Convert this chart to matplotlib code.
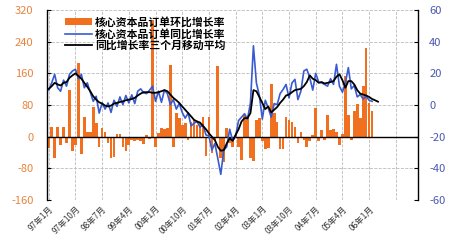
# -*- coding:utf-8 -*-
"""
核心资本品订单：环比(柱) 与 同比(线) 双轴图
"""
import numpy as np
import matplotlib
matplotlib.use('Agg')
import matplotlib.pyplot as plt

plt.rcParams['font.family'] = ['Noto Sans CJK SC', 'DejaVu Sans']
plt.rcParams['axes.unicode_minus'] = False

# ------数据------
# 环比增长率 (左轴), 97年1月起按月
mom = [-28, 24, -55, 24, -20, 25, -15, 117, -35, -20,
       187, -45, 50, 12, 12, 75, 35, -25, 22, 12,
       -15, -55, -52, 6, 8, -25, -35, -20, -8, -10,
       -8, -10, -18, 5, -5, 294, -25, 10, 22, 20,
       22, 180, -25, 60, 48, 30, 35, -8, 38, 42,
       30, 35, 50, -48, 50, -40, -10, 179, -55, -64,
       22, -15, -25, 5, -25, -60, 55, 50, -55, -62,
       42, 48, -10, -30, -28, 132, 60, 38, -30, -32,
       50, 42, 38, 25, -15, 12, -8, -25, -10, 5,
       72, -10, 18, -8, 55, 16, 20, 12, -22, 6,
       153, 55, -8, 64, 82, 48, 128, 224, 85, 64]

# 同比增长率 (右轴)
yoy = [9.4, 14, 19.4, 10.9, 8.7, 15.7, 11.9, 19.4, 21.5, 22.6,
       16.6, 19.4, 10.9, 14, 8.1, 2.3, 5.5, -5.1, 1.3, -2.6,
       1.3, -4.7, 3, -0.9, 5.1, 0.2, 6, 1.3, 6.4, 0.9,
       8.7, 10.2, 7.7, 7.2, 9.4, 11.9, 2.3, 8.7, 1.7, 9.4,
       7.2, 0.2, 3.4, -2.6, 0.9, -4.7, -8.3, -5.1, -13.2, -11.5,
       -10.4, -14, -12.6, -18.9, -19.6, -28.5, -24.3, -33.8, -43.8, -28.5,
       -26.4, -15.3, -22.6, -19.6, -9.8, -7.7, -5.5, -8.9, 1.3, 37.4,
       14, 6, -8.9, 3, -1.9, -7.7, 0.9, 0.2, 7.2, 9.8,
       13, 4.5, 14, 16.2, 3.4, 8.7, 21.5, 22.6, 17.2, 9.4,
       20, 14.5, 14, 13, 11.9, 16.6, 13, 25.7, 11.9, 8.1,
       14, 23.6, 10.2, 12.3, 5.1, 6.6, 3.8, 5.5, 3, 2.3]

# 同比增长率三个月移动平均 (右轴)
yoy_ma3 = [10.2, 11.9, 14, 13, 12.3, 14, 14.5, 17.2, 18.7, 20,
           18.3, 16.6, 14, 11.5, 8.7, 5.5, 3.4, 1.7, 0.9, -0.4,
           -0.9, -0.4, 0.9, 1.3, 1.9, 2.3, 3, 3.4, 3.8, 4.5,
           6, 7.2, 8.1, 8.1, 8.1, 7.7, 7.7, 8.1, 8.7, 9.4,
           8.7, 6.6, 4.5, 3, 1.3, -0.9, -3, -5.1, -7.2, -9.4,
           -10.4, -11.1, -13.2, -15.3, -17.9, -20, -22.1, -26.4, -28.9, -28.5,
           -24.3, -21.1, -22.6, -18.9, -15.3, -10.4, -8.3, -8.3, -5.1, 9.4,
           8.7, 5.1, 1.3, -2.6, -0.9, -4.7, -3, -1.3, 1.3, 3.4,
           6, 6.6, 8.1, 9.4, 9.8, 10.2, 11.9, 14.5, 18.7, 16.6,
           15.7, 14, 14.5, 13.6, 14, 14.5, 15.1, 17.9, 19.4, 15.7,
           10.9, 15.1, 15.1, 13, 9.4, 7.2, 6.6, 6, 5.1, 3.8,
           3, 2.1]

xlabels = ['97年1月', '97年10月', '98年7月', '99年4月', '00年1月', '00年10月',
           '01年7月', '02年4月', '03年1月', '03年10月', '04年7月', '05年4月',
           '06年1月', '']

fig = plt.figure(figsize=(4.5, 2.5), dpi=100)
ax = fig.add_axes([0.105, 0.2, 0.824, 0.76])
ax2 = ax.twinx()

bar_c = '#F07020'
blue_c = '#3A5BD0'

b = ax.bar(np.arange(len(mom)), mom, width=0.9, color=bar_c, linewidth=0,
           label='核心资本品订单环比增长率')
ax.axhline(0, color='black', lw=1.0, zorder=3)

l1, = ax2.plot(np.arange(len(yoy)), yoy, color=blue_c, lw=1.2,
               label='核心资本品订单同比增长率')
l2, = ax2.plot(np.arange(len(yoy_ma3)), yoy_ma3, color='black', lw=1.3,
               label='同比增长率三个月移动平均')

ax.set_xlim(-0.5, 124.5)
ax.set_ylim(-160, 320)
ax.set_yticks(range(-160, 321, 80))
ax2.set_ylim(-60, 60)
ax2.set_yticks(range(-60, 61, 20))

ax.set_xticks(range(0, 9 * len(xlabels), 9))
ax.set_xticklabels(xlabels, rotation=45, ha='right', rotation_mode='anchor',
                   fontsize=6, color='#333333')

ax.grid(True, color='#BBBBBB', linestyle='--', lw=0.6)
ax.set_axisbelow(True)

for a in (ax, ax2):
    a.spines['top'].set_visible(False)
    a.spines['bottom'].set_visible(False)
ax.spines['left'].set_linewidth(1.0)
ax2.spines['right'].set_linewidth(1.0)
ax.spines['right'].set_visible(False)
ax2.spines['left'].set_visible(False)

ax.tick_params(axis='y', direction='in', length=3, labelsize=8,
               labelcolor='#E8843C', pad=10)
ax.tick_params(axis='x', length=0, pad=3)
ax2.tick_params(axis='y', direction='in', length=3, labelsize=8,
                labelcolor='#4A58B0', pad=8)

ax2.legend([b, l1, l2], [b.get_label(), l1.get_label(), l2.get_label()],
           loc='upper left', frameon=False,
           prop={'weight': 'bold', 'size': 7.8},
           handlelength=2.5, handletextpad=0.3, labelspacing=0.1,
           borderaxespad=0.2, bbox_to_anchor=(0.03, 1.0))

fig.savefig('out.png', dpi=100, facecolor='white')
